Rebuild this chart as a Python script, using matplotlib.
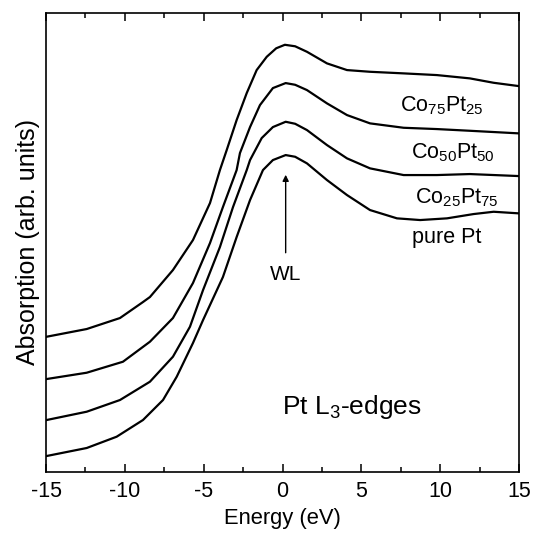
import matplotlib
matplotlib.use("Agg")
import matplotlib.pyplot as plt
from matplotlib.ticker import MultipleLocator, NullLocator

plt.rcParams['font.family'] = ['Liberation Sans', 'DejaVu Sans']
plt.rcParams['mathtext.fontset'] = 'custom'
plt.rcParams['mathtext.rm'] = 'Liberation Sans'
plt.rcParams['mathtext.it'] = 'Liberation Sans'
plt.rcParams['mathtext.default'] = 'rm'
plt.rcParams['axes.unicode_minus'] = False

# Energy (eV) and absorption (arb. units, offset for display)
e_co75 = [-14.96, -12.42, -10.31, -8.85, -8.41, -6.95, -5.68, -4.60, -3.97, -3.54,
          -2.91, -2.27, -1.64, -1.00, -0.40, 0.15, 0.8, 1.55, 2.82, 4.09, 5.55,
          7.68, 9.79, 11.88, 13.39, 14.98]
a_co75 = [1.35, 1.427, 1.537, 1.697, 1.747, 2.017, 2.317, 2.687, 3.017, 3.217,
          3.517, 3.787, 4.017, 4.15, 4.235, 4.27, 4.255, 4.20, 4.084, 4.017, 4.00,
          3.984, 3.967, 3.934, 3.89, 3.857]

e_co50 = [-14.96, -12.42, -10.12, -8.41, -6.95, -5.68, -4.60, -3.78, -2.91,
          -2.70, -2.06, -1.43, -0.61, 0.2, 0.8, 1.55, 2.82, 4.09, 5.55, 7.68, 9.79,
          11.88, 14.98]
a_co50 = [0.927, 0.99, 1.10, 1.30, 1.537, 1.887, 2.287, 2.647, 3.017,
          3.187, 3.447, 3.667, 3.837, 3.887, 3.87, 3.817, 3.684, 3.567, 3.484, 3.44,
          3.427, 3.41, 3.384]

e_co25 = [-14.96, -12.42, -10.31, -8.41, -6.95, -5.87, -5.04, -3.97, -3.14, -2.27,
          -2.06, -1.32, -0.61, 0.2, 0.8, 1.55, 2.82, 4.09, 5.55, 7.68, 9.79, 11.88,
          14.98]
a_co25 = [0.517, 0.60, 0.717, 0.90, 1.15, 1.45, 1.817, 2.247, 2.647, 3.017,
          3.117, 3.337, 3.447, 3.50, 3.48, 3.417, 3.267, 3.134, 3.034, 2.967, 2.967,
          2.977, 2.957]

e_pt = [-14.96, -12.42, -10.52, -8.85, -7.58, -6.71, -5.68, -5.04, -3.78, -2.91,
        -2.06, -1.24, -0.61, 0.2, 0.8, 1.55, 2.82, 4.09, 5.55, 7.26, 8.73, 10.43,
        12.12, 13.39, 14.98]
a_pt = [0.157, 0.237, 0.35, 0.517, 0.717, 0.95, 1.287, 1.517, 1.947, 2.347,
        2.717, 3.017, 3.117, 3.167, 3.15, 3.084, 2.917, 2.767, 2.617, 2.534, 2.517,
        2.534, 2.577, 2.60, 2.584]

xticks = [-15, -10, -5, 0, 5, 10, 15]

fig = plt.figure(figsize=(5.37, 5.33), dpi=100)
ax = fig.add_axes([0.0857, 0.115, 0.8808, 0.861])

for e, a in [(e_co75, a_co75), (e_co50, a_co50), (e_co25, a_co25), (e_pt, a_pt)]:
    ax.plot(e, a, color='black', lw=1.6, solid_joinstyle='round')

ax.set_xlim(-15, 15)
ax.set_ylim(0, 4.59)
ax.set_xticks(xticks)
ax.set_xticklabels([str(t) for t in xticks])
ax.xaxis.set_minor_locator(MultipleLocator(2.5))
ax.yaxis.set_major_locator(NullLocator())
ax.tick_params(axis='x', which='both', direction='in', top=True, bottom=True,
               labelsize=15.5, pad=7, width=1.1)
ax.tick_params(axis='x', which='major', length=6)
ax.tick_params(axis='x', which='minor', length=3.5)
for s in ax.spines.values():
    s.set_linewidth(1.2)

ax.set_xlabel('Energy (eV)', fontsize=15.8, labelpad=4)
ax.set_ylabel('Absorption (arb. units)', fontsize=18, labelpad=4)

fs = 15.5
ax.text(10.1, 3.66, r'Co$_{75}$Pt$_{25}$', fontsize=fs, ha='center', va='center')
ax.text(10.8, 3.19, r'Co$_{50}$Pt$_{50}$', fontsize=fs, ha='center', va='center')
ax.text(11.06, 2.74, r'Co$_{25}$Pt$_{75}$', fontsize=fs, ha='center', va='center')
ax.text(10.4, 2.34, 'pure Pt', fontsize=fs, ha='center', va='center')
ax.text(0.2, 1.97, 'WL', fontsize=15, ha='center', va='center')
ax.annotate('', xy=(0.2, 2.97), xytext=(0.2, 2.19),
            arrowprops=dict(arrowstyle='-|>', color='black', lw=1.0,
                            mutation_scale=9, shrinkA=0, shrinkB=0))
ax.text(4.4, 0.65, r'Pt L$_3$-edges', fontsize=19, ha='center', va='center')

fig.savefig('out.png', dpi=100)
